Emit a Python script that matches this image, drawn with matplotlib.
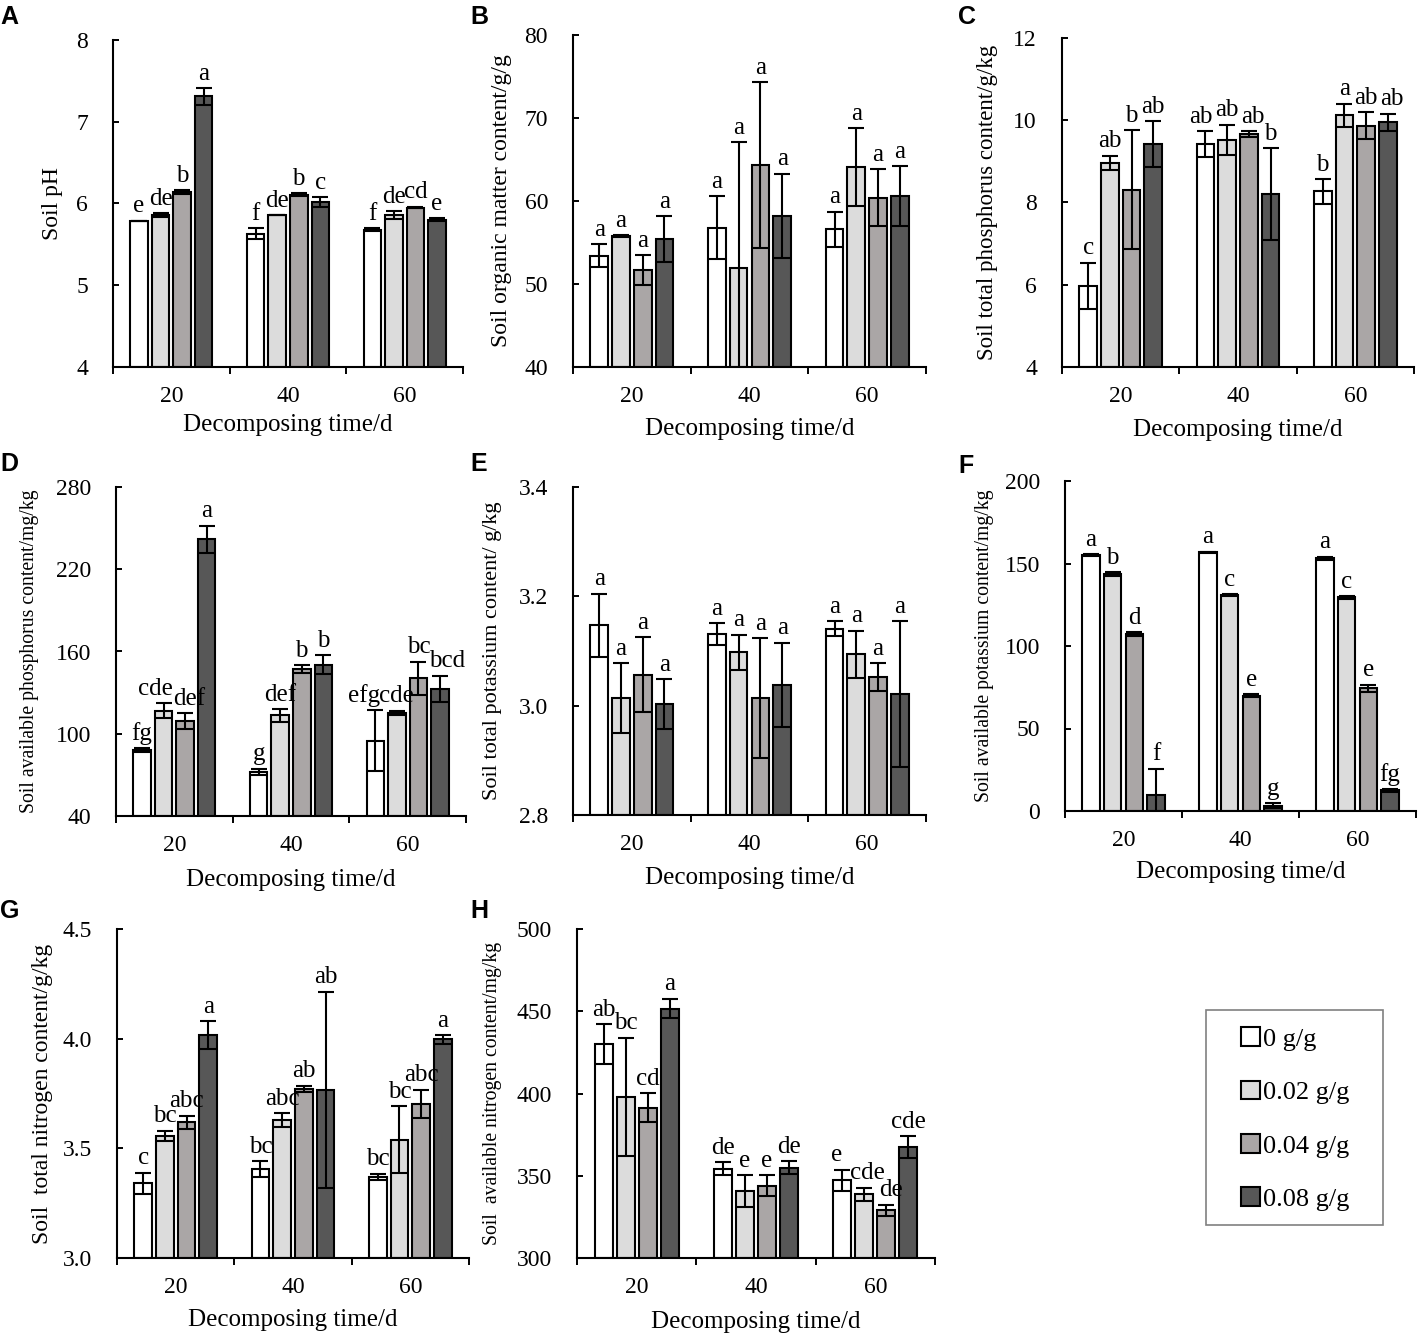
import matplotlib
matplotlib.use('Agg')
import matplotlib.pyplot as plt
from matplotlib.patches import Rectangle, Patch

plt.rcParams['font.family'] = ['Liberation Serif', 'DejaVu Serif']

days = ['20', '40', '60']
doses = ['0 g/g', '0.02 g/g', '0.04 g/g', '0.08 g/g']
colors = ['#ffffff', '#dcdcdc', '#aaa6a6', '#575757']

# values per decomposing time (rows) and dose (columns)
ph_mean = [[5.79, 5.86, 6.14, 7.31], [5.63, 5.86, 6.11, 6.02], [5.68, 5.86, 5.95, 5.80]]
ph_err = [[0.0, 0.02, 0.02, 0.10], [0.07, 0.0, 0.02, 0.06], [0.02, 0.05, 0.01, 0.02]]
ph_sig = [['e', 'de', 'b', 'a'], ['f', 'de', 'b', 'c'], ['f', 'de', 'cd', 'e']]

om_mean = [[53.4, 55.8, 51.7, 55.4], [56.8, 51.9, 64.3, 58.2], [56.6, 64.1, 60.4, 60.6]]
om_err = [[1.4, 0.1, 1.8, 2.8], [3.8, 15.2, 10.0, 5.1], [2.1, 4.7, 3.4, 3.6]]
om_sig = [['a', 'a', 'a', 'a'], ['a', 'a', 'a', 'a'], ['a', 'a', 'a', 'a']]

tp_mean = [[5.98, 8.97, 8.31, 9.42], [9.42, 9.52, 9.67, 8.20], [8.27, 10.12, 9.87, 9.95]]
tp_err = [[0.56, 0.17, 1.45, 0.55], [0.32, 0.37, 0.07, 1.12], [0.30, 0.28, 0.32, 0.21]]
tp_sig = [['c', 'ab', 'b', 'ab'], ['ab', 'ab', 'ab', 'b'], ['b', 'a', 'ab', 'ab']]

ap_mean = [[88.0, 116.9, 109.1, 241.8], [72.1, 113.5, 147.3, 150.5], [95.0, 115.2, 140.5, 132.7]]
ap_err = [[1.5, 5.6, 5.7, 10.0], [2.5, 4.6, 2.9, 7.0], [22.0, 1.7, 12.0, 9.6]]
ap_sig = [['fg', 'cde', 'def', 'a'], ['g', 'def', 'b', 'b'], ['efg', 'cde', 'bc', 'bcd']]

tk_mean = [[3.147, 3.014, 3.057, 3.003], [3.131, 3.098, 3.014, 3.038], [3.141, 3.094, 3.052, 3.021]]
tk_err = [[0.058, 0.064, 0.068, 0.045], [0.020, 0.032, 0.110, 0.077], [0.014, 0.043, 0.026, 0.133]]
tk_sig = [['a', 'a', 'a', 'a'], ['a', 'a', 'a', 'a'], ['a', 'a', 'a', 'a']]

ak_mean = [[155.3, 143.6, 107.2, 9.9], [156.7, 131.0, 70.0, 3.2], [153.1, 129.4, 74.4, 12.5]]
ak_err = [[0.5, 1.0, 1.2, 15.8], [0.5, 0.5, 1.0, 1.5], [1.0, 0.7, 2.2, 0.7]]
ak_sig = [['a', 'b', 'd', 'f'], ['a', 'c', 'e', 'g'], ['a', 'c', 'e', 'fg']]

tn_mean = [[3.340, 3.556, 3.619, 4.015], [3.406, 3.629, 3.772, 3.767], [3.371, 3.540, 3.704, 3.997]]
tn_err = [[0.049, 0.024, 0.030, 0.064], [0.035, 0.031, 0.014, 0.448], [0.014, 0.152, 0.064, 0.020]]
tn_sig = [['c', 'bc', 'abc', 'a'], ['bc', 'abc', 'ab', 'ab'], ['bc', 'bc', 'abc', 'a']]

an_mean = [[430.1, 397.9, 391.4, 451.6], [354.3, 340.7, 344.0, 354.9], [347.2, 338.7, 329.0, 367.3]]
an_err = [[12.0, 36.0, 8.7, 6.0], [4.0, 9.8, 6.5, 4.0], [6.4, 4.1, 3.5, 6.6]]
an_sig = [['ab', 'bc', 'cd', 'a'], ['de', 'e', 'e', 'de'], ['e', 'cde', 'de', 'cde']]

W, H = 1422, 1338
fig = plt.figure(figsize=(W / 100, H / 100), dpi=100)

# panel: letter, data, ylabel, yticks, ylabel size, pixel box (L, R, T, B), ylabel x, xlabel y, letter pos
panels = [
    ('A', ph_mean, ph_err, ph_sig, 'Soil pH', [4, 5, 6, 7, 8], '{:.0f}', 17,
     (113, 463, 40, 367), 52, 425, (0, 24)),
    ('B', om_mean, om_err, om_sig, 'Soil organic matter content/g/g', [40, 50, 60, 70, 80], '{:.0f}', 17,
     (573, 926, 35, 367), 502, 429, (470, 24)),
    ('C', tp_mean, tp_err, tp_sig, 'Soil total phosphorus content/g/kg', [4, 6, 8, 10, 12], '{:.0f}', 16.5,
     (1062, 1414, 38, 367), 988, 430, (958, 24)),
    ('D', ap_mean, ap_err, ap_sig, 'Soil available phosphorus content/mg/kg', [40, 100, 160, 220, 280], '{:.0f}', 14.2,
     (116, 466, 487, 816), 30, 880, (0, 471)),
    ('E', tk_mean, tk_err, tk_sig, 'Soil total potassium content/ g/kg', [2.8, 3.0, 3.2, 3.4], '{:.1f}', 16,
     (573, 926, 487, 815), 493, 878, (470, 471)),
    ('F', ak_mean, ak_err, ak_sig, 'Soil available potassium content/mg/kg', [0, 50, 100, 150, 200], '{:.0f}', 14.2,
     (1065, 1416, 481, 811), 985, 872, (958, 473)),
    ('G', tn_mean, tn_err, tn_sig, 'Soil  total nitrogen content/g/kg', [3.0, 3.5, 4.0, 4.5], '{:.1f}', 17,
     (117, 469, 929, 1258), 43, 1320, (0, 918)),
    ('H', an_mean, an_err, an_sig, 'Soil  available nitrogen content/mg/kg', [300, 350, 400, 450, 500], '{:.0f}', 14.2,
     (577, 935, 929, 1258), 493, 1322, (470, 918)),
]

# small sideways nudges (points) for crowded letters: (panel, group, dose) -> dx
nudge = {('D', 0, 1): -6, ('D', 0, 2): 3, ('D', 2, 0): -8, ('D', 2, 3): 5,
         ('C', 1, 0): -3, ('C', 1, 2): 3, ('C', 2, 3): 3,
         ('H', 2, 0): -4, ('H', 2, 1): 2, ('H', 2, 2): 3}

step = 0.185
bw = 0.15

for letter, mean, err, sig, ylab, yt, fmt, ysize, box, ylx, xly, lpos in panels:
    L, R, T, B = box
    ax = fig.add_axes([L / W, 1 - B / H, (R - L) / W, (B - T) / H])
    for j in range(4):
        xs = [i + (j - 1.5) * step for i in range(3)]
        vals = [mean[i][j] for i in range(3)]
        errs = [err[i][j] for i in range(3)]
        ax.bar(xs, [v - yt[0] for v in vals], bw, bottom=yt[0], color=colors[j],
               edgecolor='black', linewidth=1.5, zorder=2)
        ax.errorbar(xs, vals, yerr=errs, fmt='none', ecolor='black', elinewidth=1.5,
                    capsize=6, capthick=1.5, zorder=3)
        for i in range(3):
            dx = nudge.get((letter, i, j), 0)
            ax.annotate(sig[i][j], (xs[i], vals[i] + errs[i]), xytext=(dx, 6),
                        textcoords='offset points', ha='center', va='baseline', fontsize=18)
    ax.set_xlim(-0.5, 2.5)
    ax.set_ylim(yt[0], yt[-1])
    ax.set_yticks(yt)
    ax.set_yticklabels([fmt.format(v) for v in yt])
    ax.set_xticks([0, 1, 2])
    ax.set_xticklabels(days)
    ax.set_xticks([-0.5, 0.5, 1.5, 2.5], minor=True)
    ax.tick_params(axis='x', which='major', length=0, pad=14, labelsize=17)
    ax.tick_params(axis='x', which='minor', length=5, width=1.4, direction='out')
    ax.tick_params(axis='y', which='major', length=4, width=1.4, direction='in', pad=18, labelsize=17)
    for side in ['top', 'right']:
        ax.spines[side].set_visible(False)
    for side in ['left', 'bottom']:
        ax.spines[side].set_linewidth(1.5)
    ax.set_ylabel(ylab, fontsize=ysize, va='center')
    ax.yaxis.set_label_coords((ylx - L) / (R - L), 0.5)
    ax.set_xlabel('Decomposing time/d', fontsize=18, va='center')
    ax.xaxis.set_label_coords(0.5, (B - xly) / (B - T))
    fig.text(lpos[0] / W, 1 - lpos[1] / H, letter, fontsize=18, fontweight='bold',
             family='Liberation Sans', ha='left', va='baseline')

# legend in its own box
fig.patches.append(Rectangle((1206 / W, 1 - 1225 / H), 177 / W, 215 / H, transform=fig.transFigure,
                             facecolor='white', edgecolor='#808080', linewidth=1.2))
handles = [Patch(facecolor=c, edgecolor='black', linewidth=1.5) for c in colors]
fig.legend(handles, doses, loc='upper left', bbox_to_anchor=(1223 / W, 1 - 1009 / H),
           frameon=False, fontsize=19, handlelength=0.7, handleheight=0.7,
           handletextpad=0.1, labelspacing=1.13, borderpad=0.2)

fig.savefig('out.png', dpi=100)
